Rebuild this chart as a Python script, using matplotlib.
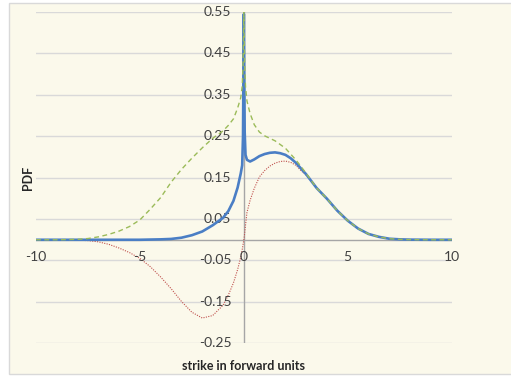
import matplotlib.pyplot as plt
from matplotlib.patches import Rectangle
import numpy as np

plt.rcParams['font.family'] = ['Lato', 'DejaVu Sans']

# strike grid (forward units)
strikes = [-10, -9, -8, -7.5, -7, -6.5, -6, -5.5, -5, -4.5, -4, -3.5, -3, -2.5, -2,
           -1.5, -1, -0.75, -0.5, -0.3, -0.15, -0.08, -0.04, -0.02, 0, 0.02, 0.04,
           0.08, 0.15, 0.3, 0.5, 0.75, 1, 1.25, 1.5, 1.75, 2, 2.25, 2.5, 2.75, 3,
           3.5, 4, 4.5, 5, 5.5, 6, 6.5, 7, 7.5, 8, 9, 10]

# blue solid: pdf
pdf = [0, 0, 0, 0, 0, 0, 0, 0, 0, 0.0005, 0.001, 0.002, 0.005, 0.011, 0.02,
       0.035, 0.053, 0.069, 0.094, 0.126, 0.16, 0.18, 0.25, 0.4, 0.545, 0.4, 0.26,
       0.205, 0.193, 0.189, 0.194, 0.202, 0.207, 0.21, 0.211, 0.209, 0.205, 0.197,
       0.186, 0.172, 0.158,
       0.125, 0.099, 0.07, 0.046, 0.027, 0.014, 0.007, 0.0025, 0.001, 0.0003, 0, 0]

# green dashed
pdf_upper = [0, 0, 0.001, 0.003, 0.007, 0.013, 0.021, 0.032, 0.048, 0.074, 0.102,
             0.139, 0.17, 0.197, 0.222, 0.245, 0.263, 0.276, 0.292, 0.318, 0.343,
             0.37, 0.42, 0.48, 0.55, 0.48, 0.42, 0.37, 0.335, 0.305, 0.278, 0.26,
             0.251, 0.245, 0.239, 0.23, 0.221, 0.207, 0.193, 0.177, 0.16,
             0.125, 0.099, 0.07, 0.046, 0.027, 0.014, 0.007, 0.0025, 0.001, 0.0003, 0, 0]

# red dotted
pdf_lower = [0, 0, -0.001, -0.002, -0.005, -0.011, -0.02, -0.031, -0.045, -0.065,
             -0.09, -0.118, -0.149, -0.175, -0.189, -0.183, -0.158, -0.134, -0.104,
             -0.072, -0.042, -0.024, -0.012, -0.006, 0, 0.008, 0.016, 0.035, 0.066,
             0.095, 0.124, 0.152, 0.167, 0.178, 0.185, 0.189, 0.19, 0.187, 0.18,
             0.167, 0.156,
             0.125, 0.099, 0.07, 0.046, 0.027, 0.014, 0.007, 0.0025, 0.001, 0.0003, 0, 0]

y_ticks = [0.55, 0.45, 0.35, 0.25, 0.15, 0.05, -0.05, -0.15, -0.25]
x_ticks = [-10, -5, 0, 5, 10]

cream = '#fbf9eb'
grid_c = '#d9d9d9'
axis_c = '#a6a6a6'
text_c = '#404040'

fig = plt.figure(figsize=(5.11, 3.77), dpi=100)
fig.patches.append(Rectangle((9 / 511, 3 / 377), 1, 371 / 377, transform=fig.transFigure,
                             facecolor=cream, edgecolor=grid_c, linewidth=1, zorder=-10))
ax = fig.add_axes([36 / 511, 1 - 343.3 / 377, 415.7 / 511, 331.3 / 377])
ax.set_zorder(5)
ax.set_facecolor('none')
ax.set_xlim(-10, 10)
ax.set_ylim(-0.25, 0.55)
for s in ax.spines.values():
    s.set_visible(False)
ax.set_xticks([])
ax.set_yticks([])

for yv in y_ticks:
    ax.axhline(yv, color=grid_c, linewidth=1, zorder=1)
ax.axhline(0, color=axis_c, linewidth=1, zorder=2)
ax.axvline(0, color=axis_c, linewidth=1, zorder=2)

for yv in y_ticks:
    ax.text(-0.6, yv, f"{yv:.2f}", ha='right', va='center', fontsize=10, color=text_c)
for xv in x_ticks:
    ax.text(xv, -0.041, str(xv), ha='center', va='center', fontsize=10, color=text_c)

ax.plot(strikes, pdf_lower, color='#c0504d', linewidth=0.8, linestyle=(0, (1, 1.2)), zorder=2.5)
ax.plot(strikes, pdf, color='#4a7ec5', linewidth=1.9, zorder=3)
ax.plot(strikes, pdf_upper, color='#9bbb59', linewidth=1.0, linestyle=(0, (3.5, 2.5)), zorder=4)

fig.text(28 / 511, 1 - 178 / 377, "PDF", rotation=90, ha='center', va='center',
         fontsize=9, fontweight='bold', color='#262626')
fig.text(243 / 511, 1 - 365.5 / 377, "strike in forward units", ha='center', va='center',
         fontsize=9, fontweight='bold', color='#262626')

fig.savefig('out.png', dpi=100)
